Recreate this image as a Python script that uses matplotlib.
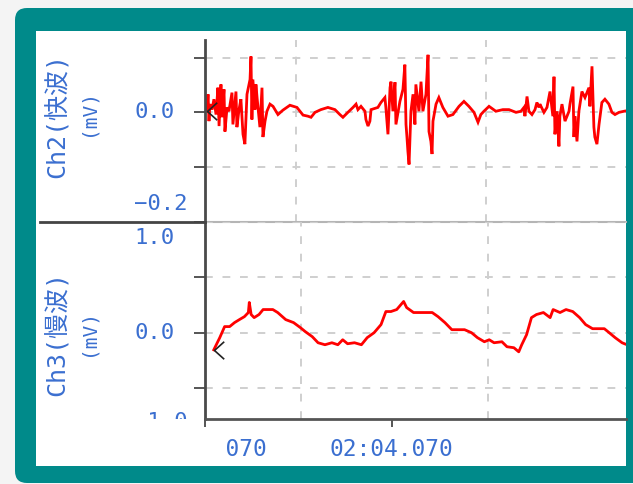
import matplotlib
matplotlib.use("Agg")
import matplotlib.pyplot as plt
from matplotlib import transforms
from matplotlib.patches import FancyBboxPatch, Rectangle
from matplotlib.lines import Line2D

# time in seconds, values in mV
ch2_t = [123.117, 123.123, 123.128, 123.133, 123.144, 123.154, 123.165, 123.175, 123.181, 123.191,
         123.196, 123.207, 123.212, 123.223, 123.233, 123.249, 123.254, 123.270, 123.275, 123.286,
         123.296, 123.307, 123.317, 123.328, 123.344, 123.349, 123.354, 123.359, 123.370, 123.375,
         123.381, 123.396, 123.407, 123.412, 123.423, 123.433, 123.449, 123.465, 123.491, 123.517,
         123.554, 123.591, 123.623, 123.649, 123.665, 123.686, 123.717, 123.754, 123.791, 123.817,
         123.833, 123.859, 123.886, 123.902, 123.912, 123.928, 123.949, 123.954, 123.965, 123.975,
         123.981, 124.017, 124.033, 124.054, 124.059, 124.070, 124.081, 124.086, 124.096, 124.107,
         124.112, 124.133, 124.149, 124.159, 124.165, 124.170, 124.175, 124.181, 124.191, 124.202,
         124.212, 124.217, 124.233, 124.244, 124.254, 124.270, 124.281, 124.286, 124.296, 124.302,
         124.307, 124.323, 124.338, 124.359, 124.386, 124.412, 124.444, 124.470, 124.496, 124.523,
         124.544, 124.559, 124.575, 124.602, 124.638, 124.675, 124.707, 124.744, 124.770, 124.786,
         124.791, 124.802, 124.812, 124.828, 124.844, 124.854, 124.865, 124.870, 124.891, 124.907,
         124.923, 124.938, 124.944, 124.949, 124.960, 124.970, 124.975, 124.986, 125.002, 125.023,
         125.028, 125.044, 125.049, 125.054, 125.065, 125.075, 125.091, 125.107, 125.128, 125.133,
         125.144, 125.154, 125.159, 125.170, 125.181, 125.196, 125.212, 125.233, 125.249, 125.265,
         125.286, 125.312, 125.344]
ch2_v = [0.002, 0.033, -0.016, 0.015, 0.005, 0.024, -0.004, 0.045, -0.025, 0.051,
         -0.009, 0.042, -0.035, 0.009, 0.002, 0.036, -0.022, 0.038, -0.027, 0.005,
         0.024, -0.040, -0.058, 0.033, 0.060, 0.102, -0.013, 0.060, 0.005, 0.051,
         0.027, -0.027, 0.045, -0.045, -0.016, 0.002, 0.015, 0.011, -0.004, 0.004,
         0.013, 0.009, -0.005, -0.007, -0.009, 0.000, 0.005, 0.009, 0.005, -0.004,
         -0.009, 0.000, 0.009, 0.015, 0.005, 0.011, 0.002, -0.013, -0.025, -0.016,
         0.005, 0.009, 0.018, 0.027, 0.009, -0.040, 0.045, 0.056, 0.002, 0.055,
         -0.022, 0.020, 0.042, 0.087, -0.022, -0.045, -0.071, -0.095, 0.002, 0.033,
         -0.022, 0.051, 0.002, 0.056, 0.002, 0.033, 0.105, -0.035, -0.053, -0.076,
         -0.016, 0.015, 0.027, 0.009, -0.007, -0.004, 0.011, 0.020, 0.011, 0.000,
         -0.018, -0.004, 0.002, 0.011, 0.002, 0.005, 0.005, 0.000, 0.002, 0.009,
         -0.007, 0.029, 0.002, -0.004, 0.005, 0.018, 0.009, 0.015, 0.000, 0.009,
         0.038, -0.007, 0.065, -0.040, 0.002, -0.062, -0.007, 0.015, -0.016, 0.002,
         0.015, 0.047, -0.045, -0.007, -0.053, 0.002, 0.038, 0.027, 0.045, 0.011,
         0.084, -0.027, -0.045, -0.058, -0.022, 0.018, 0.024, 0.015, 0.000, -0.004,
         0.000, 0.002, 0.004]

ch3_t = [123.117, 123.149, 123.175, 123.202, 123.228, 123.254, 123.281, 123.302, 123.307, 123.317,
         123.333, 123.359, 123.381, 123.433, 123.459, 123.502, 123.544, 123.581, 123.607, 123.644,
         123.675, 123.712, 123.749, 123.781, 123.807, 123.833, 123.870, 123.907, 123.938, 123.975,
         124.012, 124.038, 124.065, 124.096, 124.133, 124.149, 124.186, 124.212, 124.286, 124.317,
         124.354, 124.391, 124.459, 124.496, 124.528, 124.565, 124.591, 124.617, 124.659, 124.686,
         124.723, 124.749, 124.765, 124.791, 124.817, 124.844, 124.881, 124.917, 124.933, 124.970,
         125.002, 125.038, 125.075, 125.107, 125.144, 125.207, 125.233, 125.265, 125.302, 125.328]
ch3_v = [-0.155, -0.045, 0.055, 0.055, 0.091, 0.118, 0.145, 0.182, 0.273, 0.164,
         0.136, 0.164, 0.209, 0.209, 0.182, 0.118, 0.091, 0.045, 0.009, -0.036,
         -0.091, -0.109, -0.091, -0.109, -0.064, -0.100, -0.091, -0.109, -0.045, 0.000,
         0.073, 0.191, 0.191, 0.209, 0.282, 0.227, 0.182, 0.182, 0.182, 0.145,
         0.091, 0.027, 0.027, 0.000, -0.045, -0.082, -0.064, -0.091, -0.082, -0.127,
         -0.136, -0.173, -0.109, -0.018, 0.136, 0.164, 0.182, 0.136, 0.209, 0.182,
         0.209, 0.191, 0.136, 0.073, 0.036, 0.036, 0.000, -0.045, -0.091, -0.109]

ch2_label = "Ch2(快波)"
ch3_label = "Ch3(慢波)"
unit_label = "(mV)"
ch2_ticks = [-0.2, -0.1, 0.0, 0.1]
ch3_ticks = [-0.5, 0.0, 0.5, 1.0]
x_ticks = [123.07, 124.07]
x_grid = [123.586, 124.586]

W, H = 633, 484
BLUE = "#3b6fd0"
TEAL = "#008a8a"
FONT = ["DejaVu Sans Mono", "Noto Sans CJK SC"]

fig = plt.figure(figsize=(W / 100, H / 100), dpi=100, facecolor="#f4f4f4")
px = transforms.IdentityTransform()

def fx(x):
    return x / W

def fy(y):
    return 1 - y / H

# teal frame + white card
fig.add_artist(FancyBboxPatch((15, H - 483), 660, 475, boxstyle="round,pad=0,rounding_size=12",
                              transform=px, fc=TEAL, ec="none", zorder=-3))
fig.add_artist(Rectangle((36, H - 466), 590, 435, transform=px, fc="white", ec="none", zorder=-2))

ax1 = fig.add_axes([fx(205), fy(222), fx(626) - fx(205), fy(40) - fy(222)])
ax2 = fig.add_axes([fx(205), fy(419), fx(626) - fx(205), fy(222) - fy(419)])

def fmt(t):
    m = int(t // 60)
    s = t - m * 60
    return "%02d:%06.3f" % (m, s)

for ax, ticks in ((ax1, ch2_ticks), (ax2, ch3_ticks)):
    ax.set_facecolor("none")
    ax.set_xlim(123.107, 125.323)
    ax.set_yticks(ticks)
    ax.set_xticks(x_grid, minor=True)
    ax.grid(True, axis="y", which="major", color="#cfcfcf", lw=1.4, ls=(0, (4, 5)))
    ax.grid(True, axis="x", which="minor", color="#cfcfcf", lw=1.4, ls=(0, (4, 5)))
    ax.tick_params(axis="y", length=8, width=1.4, color="#555555", labelleft=False)
    ax.tick_params(axis="x", which="minor", length=0)
    for s in ("top", "right"):
        ax.spines[s].set_visible(False)
    ax.spines["left"].set_color("#4a4a4a")
    ax.spines["left"].set_linewidth(2)

ax1.set_ylim(-0.2, 0.132)
ax2.set_ylim(-0.78, 1.0)
ax1.set_xticks([])
ax1.spines["bottom"].set_color("#b5b5b5")
ax1.spines["bottom"].set_linewidth(1.5)
ax2.spines["bottom"].set_color("#555555")
ax2.spines["bottom"].set_linewidth(2)
ax2.set_xticks(x_ticks)
ax2.tick_params(axis="x", length=6, width=1.4, color="#555555", labelbottom=False)

ax1.plot(ch2_t, ch2_v, color="#ff0000", lw=2, solid_joinstyle="miter")
ax2.plot(ch3_t, ch3_v, color="#ff0000", lw=2)

# cursor marks at trace start
caret = [(1.0, 0.9), (0.0, 0.0), (1.0, -0.9)]
for ax, t, v in ((ax1, ch2_t, ch2_v), (ax2, ch3_t, ch3_v)):
    ax.plot(t[0], v[0], marker=caret, ms=14, mfc="none", mec="#222222", mew=1.2, clip_on=False)

# separator line left of the plots
fig.add_artist(Line2D([fx(40), fx(205)], [fy(221.5), fy(221.5)], color="#444444", lw=2))

# y tick labels, left-aligned
def ylabel_text(ax, val, text, dy=0, clip=None):
    tr = transforms.blended_transform_factory(fig.transFigure, ax.transData)
    tr = tr + transforms.ScaledTranslation(0, dy / 100, fig.dpi_scale_trans)
    t = fig.text(fx(134), val, text, transform=tr, ha="left", va="center",
                 fontsize=16, color=BLUE, family=FONT)
    if clip is not None:
        t.set_clip_box(clip)
        t.set_clip_on(True)
    return t

ylabel_text(ax1, ch2_ticks[2], "0.0")
ylabel_text(ax1, ch2_ticks[0], "\u22120.2", dy=18)
ylabel_text(ax2, ch3_ticks[3], "1.0", dy=-16)
ylabel_text(ax2, ch3_ticks[1], "0.0")
ylabel_text(ax2, -1.0, "\u22121.0", dy=21,
            clip=transforms.Bbox([[0, H - 419], [W, H]]))

# x tick labels, clipped on the left like the reference
xtr = transforms.blended_transform_factory(ax2.transData, fig.transFigure)
for t in x_ticks:
    txt = fig.text(t, fy(449), fmt(t), transform=xtr, ha="center", va="center",
                   fontsize=16.5, color=BLUE, family=FONT)
    txt.set_clip_box(transforms.Bbox([[222, 0], [626, H]]))
    txt.set_clip_on(True)

# channel titles
fig.text(fx(58), fy(115), ch2_label, rotation=90, ha="center", va="center",
         fontsize=18, color=BLUE, family=FONT)
fig.text(fx(88), fy(112), unit_label, rotation=90, ha="center", va="center",
         fontsize=14, color=BLUE, family=FONT)
fig.text(fx(58), fy(334), ch3_label, rotation=90, ha="center", va="center",
         fontsize=18, color=BLUE, family=FONT)
fig.text(fx(88), fy(332), unit_label, rotation=90, ha="center", va="center",
         fontsize=14, color=BLUE, family=FONT)

fig.savefig("out.png", dpi=100, facecolor=fig.get_facecolor())
